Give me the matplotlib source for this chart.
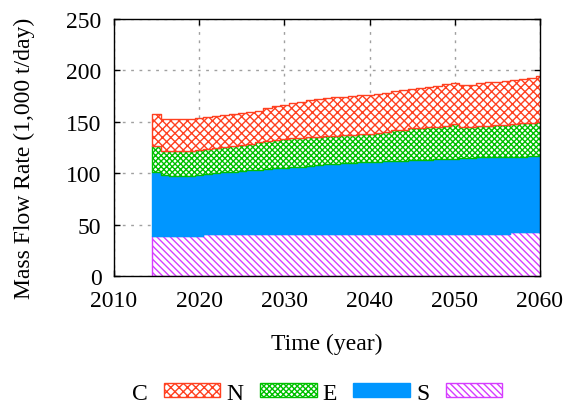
import matplotlib
matplotlib.use('Agg')
import matplotlib.pyplot as plt
import numpy as np

plt.rcParams['font.family'] = ['Liberation Serif', 'DejaVu Serif']
plt.rcParams['hatch.linewidth'] = 1.0

# Yearly mass flow rates (1,000 t/day), 2015-2060
years = np.arange(2015, 2061)

s_vals = [39.3] * 6 + [40.6] * 26 + [41.3] * 10 + [42.5] * 4

e_vals = [62.2, 59.2, 58.2, 57.7, 58.2, 58.7, 58.4, 59.4, 60.4, 60.9,
          61.4, 62.4, 62.9, 63.4, 64.4, 64.9, 65.4, 65.9, 66.7, 67.4,
          67.9, 68.4, 68.9, 69.4, 69.9, 70.4, 70.7, 71.0, 71.3, 71.6,
          71.9, 72.2, 72.0, 72.5, 72.7, 73.0, 73.3, 73.7, 74.0, 74.2,
          74.4, 74.5, 73.5, 73.6, 73.8, 73.9]

n_vals = [25.3, 23.5, 24.0, 24.5, 24.5, 24.5, 24.5, 24.5, 24.5, 25.0,
          25.5, 25.5, 26.5, 27.5, 27.5, 28.0, 28.0, 28.0, 27.7, 27.5,
          27.5, 27.5, 27.5, 27.5, 27.5, 27.5, 28.2, 28.9, 30.1, 30.3,
          31.0, 31.2, 31.2, 31.2, 31.5, 33.2, 30.4, 30.0, 30.2, 30.5,
          30.8, 30.7, 31.5, 32.4, 32.7, 33.6]

c_vals = [30.8, 31.0, 31.0, 31.0, 31.0, 31.0, 31.0, 31.0, 31.0, 31.0,
          31.0, 31.0, 31.0, 31.5, 32.5, 33.0, 34.0, 35.0, 36.0, 37.0,
          37.5, 37.5, 37.5, 37.5, 38.0, 38.0, 37.5, 37.5, 37.5, 38.0,
          38.0, 38.5, 39.0, 40.0, 41.0, 40.0, 41.0, 41.0, 42.0, 42.5,
          42.5, 43.5, 43.5, 43.5, 44.0, 44.3]

labels = ['S', 'E', 'N', 'C']
colors = ['#d63cff', '#0096ff', '#00c000', '#ff4020']
hatches = ['\\' * 5, None, 'x' * 6, 'xxxx']

fig = plt.figure(figsize=(5.66, 4.06), dpi=100)
ax = fig.add_axes([0.2014, 0.3177, 0.7526, 0.633])

# each year is a block from year-0.5 to year+0.5
edges = np.append(years - 0.5, years[-1] + 0.5)
series = [s_vals, e_vals, n_vals, c_vals]
lower = np.zeros(len(years))
handles = {}
for lab, vals, col, hat in zip(labels, series, colors, hatches):
    upper = lower + np.array(vals)
    lo = np.append(lower, lower[-1])
    up = np.append(upper, upper[-1])
    if hat is None:
        h = ax.fill_between(edges, lo, up, step='post', facecolor=col,
                            edgecolor=col, linewidth=1.0, zorder=2)
    else:
        h = ax.fill_between(edges, lo, up, step='post', facecolor='white',
                            edgecolor=col, hatch=hat, linewidth=1.0, zorder=2)
    handles[lab] = h
    lower = upper

ax.set_xlim(2010, 2060)
ax.set_ylim(0, 250)
ax.set_xticks(np.arange(2010, 2061, 10))
ax.set_yticks(np.arange(0, 251, 50))
ax.grid(True, color='#a0a0a0', linestyle=(0, (2, 4)), linewidth=1.0, zorder=0)
ax.set_axisbelow(True)
ax.tick_params(direction='in', top=True, right=True, length=4, width=1,
               labelsize=17)
ax.tick_params(axis='x', pad=10)
ax.tick_params(axis='y', pad=9)
for sp in ax.spines.values():
    sp.set_linewidth(1.0)
    sp.set_zorder(5)

ax.set_ylabel('Mass Flow Rate (1,000 t/day)', fontsize=17)
ax.set_xlabel('Time (year)', fontsize=17)
ax.yaxis.set_label_coords(-0.185, 0.462)
ax.xaxis.set_label_coords(0.5, -0.22)

order = ['C', 'N', 'E', 'S']
fig.legend([handles[k] for k in order], order, loc='center',
           bbox_to_anchor=(0.56, 0.029), ncol=4, frameon=False,
           markerfirst=False, fontsize=17, handlelength=2.4,
           handleheight=0.55, handletextpad=0.7, columnspacing=0.25,
           borderpad=0.2)

fig.savefig('out.png', dpi=100)
